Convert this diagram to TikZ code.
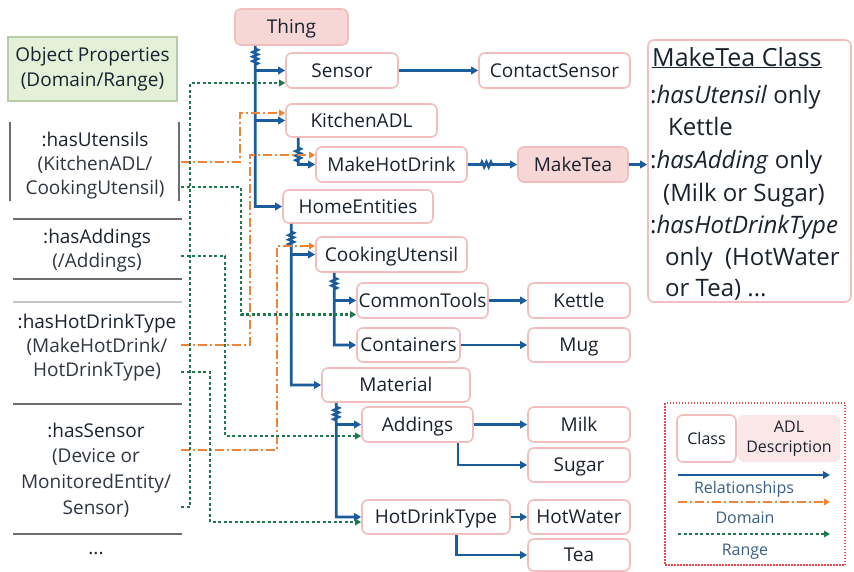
\documentclass[tikz,border=0pt]{standalone}
\usepackage{fontspec}
\setmainfont{Open Sans}
\usetikzlibrary{arrows.meta,decorations.pathmorphing}

\definecolor{relblue}{HTML}{1B5C9C}
\definecolor{domorange}{HTML}{EE8536}
\definecolor{rangreen}{HTML}{1E7A4E}
\definecolor{clsborder}{HTML}{F2BDBD}
\definecolor{adlfill}{HTML}{F7D6D6}
\definecolor{adllight}{HTML}{FBE7E7}
\definecolor{txt}{HTML}{1A222D}
\definecolor{subtxt}{HTML}{30363F}
\definecolor{propfill}{HTML}{E4F0D8}
\definecolor{propborder}{HTML}{B9CCA8}
\definecolor{panelline}{HTML}{6E6E6E}
\definecolor{legendred}{HTML}{E5484D}
\definecolor{legendtxt}{HTML}{3A5F86}

\begin{document}
\begin{tikzpicture}[x=1pt,y=-1pt,
  every node/.style={text=txt, font=\fontsize{19}{23}\selectfont},
  cls/.style={draw=clsborder, line width=1.6pt, rounded corners=6pt, fill=white,
              inner sep=0pt, text height=18pt, text depth=4.4pt},
  adl/.style={cls, fill=adlfill},
  rel/.style={draw=relblue, line width=2.6pt, -{Triangle[length=7pt,width=7.5pt]}},
  dom/.style={draw=domorange, line width=2pt, dash pattern=on 9pt off 3pt on 2pt off 3pt, -{Triangle[length=6pt,width=6.5pt]}},
  rng/.style={draw=rangreen, line width=2.2pt, dash pattern=on 3pt off 2.5pt, -{Triangle[length=6pt,width=6.5pt]}},
  zz/.style={decoration={zigzag, segment length=4.5pt, amplitude=2.5pt}},
  prop/.style={align=center, font=\fontsize{19}{24}\selectfont, text=subtxt, inner sep=0pt},
  mtline/.style={anchor=base west, inner sep=0pt, font=\fontsize{24}{30}\selectfont},
  lgtxt/.style={text=legendtxt, font=\fontsize{16}{19}\selectfont, inner sep=0pt},
  panel/.style={draw=panelline, line width=1.4pt}
]
\useasboundingbox (0,0) rectangle (854,571);

% ---------------- left panel: object properties ----------------
\node[draw=propborder, fill=propfill, line width=1.2pt, minimum width=169pt,
      minimum height=64pt, align=center, inner sep=0pt,
      font=\fontsize{19}{25}\selectfont] (objprops) at (92.5,69)
      {Object Properties\\(Domain/Range)};

\draw[panel] (10,122) -- (10,201);
\draw[panel] (179,122) -- (179,201);
\draw[panel] (13,219) -- (182,219);
\draw[panel] (13,279) -- (182,279);
\draw[draw=panelline!40, line width=1.2pt] (13,302) -- (182,302);
\draw[panel] (13,404) -- (182,404);
\draw[panel] (13,534) -- (182,534);

\node[prop] (hasutensils) at (95,166)
  {\textcolor{txt}{:hasUtensils}\\(KitchenADL/\\CookingUtensil)};
\node[prop] (hasaddings) at (97,251)
  {\textcolor{txt}{:hasAddings}\\(/Addings)};
\node[prop] (hashotdrink) at (97,348)
  {\textcolor{txt}{:hasHotDrinkType}\\(MakeHotDrink/\\HotDrinkType)};
\node[prop, font=\fontsize{19}{25.7}\selectfont] (hassensor) at (96,470)
  {\textcolor{txt}{:hasSensor}\\(Device or\\MonitoredEntity/\\Sensor)};
\node[inner sep=0pt] (more) at (96,554) {...};

% ---------------- class hierarchy ----------------
\node[adl, minimum width=113pt, minimum height=36pt] (thing) at (291.5,27) {Thing};
\node[cls, minimum width=112pt, minimum height=35pt] (sensor) at (342,70.5) {Sensor};
\node[cls, minimum width=151pt, minimum height=35pt] (contact) at (554.5,70.5) {ContactSensor};
\node[cls, minimum width=151pt, minimum height=33pt] (kitchen) at (361.5,120.5) {KitchenADL};
\node[cls, minimum width=151pt, minimum height=35pt] (makehot) at (391.5,164.5) {MakeHotDrink};
\node[adl, minimum width=110pt, minimum height=35pt] (maketea) at (573,164.5) {MakeTea};
\node[cls, minimum width=150pt, minimum height=33pt] (home) at (358,206.5) {HomeEntities};
\node[cls, minimum width=151pt, minimum height=35pt] (cooking) at (391.5,254.5) {CookingUtensil};
\node[cls, minimum width=131pt, minimum height=35pt] (common) at (422.5,300.5) {CommonTools};
\node[cls, minimum width=102pt, minimum height=35pt] (kettle) at (579,300.5) {Kettle};
\node[cls, minimum width=103pt, minimum height=34pt] (containers) at (408.5,345) {Containers};
\node[cls, minimum width=102pt, minimum height=34pt] (mug) at (579,345) {Mug};
\node[cls, minimum width=148pt, minimum height=34pt] (material) at (396,385) {Material};
\node[cls, minimum width=111pt, minimum height=35pt] (addings) at (417.5,424.5) {Addings};
\node[cls, minimum width=102pt, minimum height=35pt] (milk) at (579,424.5) {Milk};
\node[cls, minimum width=102pt, minimum height=34pt] (sugar) at (579,465) {Sugar};
\node[cls, minimum width=148pt, minimum height=34pt] (hdt) at (436,517) {HotDrinkType};
\node[cls, minimum width=102pt, minimum height=34pt] (hotwater) at (579,517) {HotWater};
\node[cls, minimum width=102pt, minimum height=32pt] (tea) at (579,555) {Tea};

% MakeTea class description
\node[cls, minimum width=203pt, minimum height=262pt] (mtbox) at (749.5,171) {};
\node[mtline, font=\fontsize{25}{30}\selectfont] (mt1) at (652,66) {\underline{MakeTea Class}};
\node[mtline] (mt2) at (650,103) {:\textit{hasUtensil} only};
\node[mtline] (mt3) at (668,135) {Kettle};
\node[mtline] (mt4) at (650,168) {:\textit{hasAdding} only};
\node[mtline] (mt5) at (663,201) {(Milk or Sugar)};
\node[mtline] (mt6) at (650,233) {:\textit{hasHotDrinkType}};
\node[mtline] (mt7) at (665,265) {only\ \ (HotWater};
\node[mtline] (mt8) at (665,296) {or Tea) ...};

% ---------------- subclass / relationship connectors ----------------
\coordinate (thingtrunk) at ([xshift=21pt]thing.south west);
\draw[rel] (thingtrunk) -- ++(0,3) decorate[zz]{-- ++(0,16)} |- (home.west);
\draw[rel] (thingtrunk |- sensor.west) -- (sensor.west);
\draw[rel] (thingtrunk |- kitchen.west) -- (kitchen.west);

\coordinate (kitchentrunk) at ([xshift=13pt]kitchen.south west);
\draw[rel] (kitchentrunk) -- ++(0,10) decorate[zz]{-- ++(0,14)} |- (makehot.west);
\draw[rel] (makehot.east) -- ++(13,0) decorate[zz]{-- ++(13,0)} -- (maketea.west);
\draw[rel] (maketea.east) -- (maketea.east -| mtbox.west);

\draw[rel] (sensor.east) -- (contact.west);

\coordinate (hometrunk) at ([xshift=9pt]home.south west);
\draw[rel] (hometrunk) -- ++(0,8) decorate[zz]{-- ++(0,14)} |- (material.west);
\draw[rel] (hometrunk |- cooking.west) -- (cooking.west);

\coordinate (cookingtrunk) at ([xshift=19pt]cooking.south west);
\draw[rel] (cookingtrunk) -- ++(0,5) decorate[zz]{-- ++(0,13)} |- (containers.west);
\draw[rel] (cookingtrunk |- common.west) -- (common.west);
\draw[rel] (common.east) -- (kettle.west);
\draw[rel] (containers.east) -- (mug.west);

\coordinate (materialtrunk) at ([xshift=15pt]material.south west);
\draw[rel] (materialtrunk) -- ++(0,4) decorate[zz]{-- ++(0,14)} |- (hdt.west);
\draw[rel] (materialtrunk |- addings.west) -- (addings.west);
\draw[rel] (addings.east) -- (milk.west);
\draw[rel] ([xshift=-16pt]addings.south east) |- (sugar.west);
\draw[rel] (hdt.east) -- (hotwater.west);
\draw[rel] ([xshift=95pt]hdt.south west) |- (tea.west);

% ---------------- domain and range connectors ----------------
\coordinate (hudom) at (181,162);
\coordinate (hurng) at (181,187);
\coordinate (hadrng) at (181,256);
\coordinate (hhdom) at (181,345);
\coordinate (hhrng) at (181,372);
\coordinate (hsdom) at (181,450);
\coordinate (hsrng) at (181,507);

\draw[dom] (hudom) -- ++(59,0) |- ([yshift=7.5pt]kitchen.west);
\draw[dom] (hhdom) -- ++(69,0) |- ([yshift=9.5pt]makehot.west);
\draw[dom] (hsdom) -- ++(96,0) |- ([yshift=8.5pt]cooking.west);

\draw[rng] (hurng) -- ++(60,0) |- ([yshift=-14pt]common.west);
\draw[rng] (hadrng) -- ++(44,0) |- ([yshift=-11.5pt]addings.west);
\draw[rng] (hhrng) -- ++(29,0) |- ([yshift=-5pt]hdt.west);
\draw[rng] (hsrng) -- ++(9,0) |- ([yshift=-12.5pt]sensor.west);

% ---------------- legend ----------------
\node[draw=legendred, line width=1.5pt, dash pattern=on 1.5pt off 1.5pt,
      minimum width=180pt, minimum height=162pt, inner sep=0pt] (legend) at (755,484) {};
\node[cls, minimum width=59pt, minimum height=47pt, font=\fontsize{16}{19}\selectfont,
      text height=12pt, text depth=0pt] (lgclass) at (706.5,438.5) {Class};
\node[fill=adllight, rounded corners=6pt, minimum width=102pt, minimum height=47pt,
      inner sep=0pt, align=center, font=\fontsize{16}{20}\selectfont] (lgadl) at (789,438.5) {ADL\\Description};
\coordinate (lgrel1) at (678,475);
\coordinate (lgrel2) at (830,475);
\coordinate (lgdom1) at (678,502);
\coordinate (lgdom2) at (830,502);
\coordinate (lgrng1) at (678,534);
\coordinate (lgrng2) at (830,534);
\draw[rel] (lgrel1) -- (lgrel2);
\draw[dom] (lgdom1) -- (lgdom2);
\draw[rng] (lgrng1) -- (lgrng2);
\node[lgtxt] (lgreltxt) at (744,489) {Relationships};
\node[lgtxt] (lgdomtxt) at (745,518) {Domain};
\node[lgtxt] (lgrngtxt) at (745,552) {Range};
\end{tikzpicture}
\end{document}
